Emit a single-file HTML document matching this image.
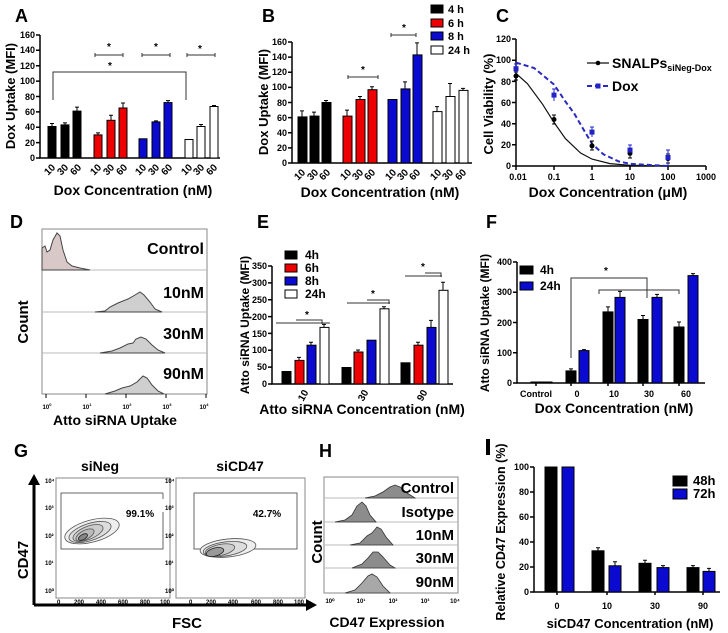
<!DOCTYPE html>
<html><head><meta charset="utf-8"><style>
html,body{margin:0;padding:0;background:#fff}
svg{display:block}
text{font-family:"Liberation Sans",Arial,sans-serif;font-weight:bold;fill:#000}
.t{font-size:9px}
.s{font-size:6px;font-weight:normal;fill:#444}
.ax{stroke:#000;stroke-width:1.5;fill:none}
.e{stroke:#000;stroke-width:1;fill:none}
.br{stroke:#333;stroke-width:1;fill:none}
</style></head><body>
<svg width="728" height="633" viewBox="0 0 728 633" xmlns="http://www.w3.org/2000/svg">
<!-- ========== A ========== -->
<text x="15" y="22" font-size="18">A</text>
<path class="ax" d="M40,35 V158 H220"/>
<g class="ax"><path d="M36,158h4M36,142.6h4M36,127.2h4M36,111.9h4M36,96.5h4M36,81.1h4M36,65.7h4M36,50.3h4M36,35h4"/></g>
<g class="t" text-anchor="end"><text x="35" y="161">0</text><text x="35" y="146">20</text><text x="35" y="130">40</text><text x="35" y="115">60</text><text x="35" y="100">80</text><text x="35" y="84">100</text><text x="35" y="69">120</text><text x="35" y="53">140</text><text x="35" y="38">160</text></g>
<text transform="translate(15,96) rotate(-90)" text-anchor="middle" font-size="13">Dox Uptake (MFI)</text>
<g stroke="#000" stroke-width="1">
<rect x="48" y="126.5" width="8" height="31.5" fill="#000"/><rect x="61" y="124.9" width="8" height="33.1" fill="#000"/><rect x="73" y="111.1" width="8" height="46.9" fill="#000"/>
<rect x="94" y="134.9" width="8" height="23.1" fill="#e00"/><rect x="107" y="120.3" width="8" height="37.7" fill="#e00"/><rect x="119" y="108" width="8" height="50" fill="#e00"/>
<rect x="139" y="138.8" width="8" height="19.2" fill="#0a0ad0"/><rect x="152" y="121.9" width="8" height="36.1" fill="#0a0ad0"/><rect x="164" y="102.6" width="8" height="55.4" fill="#0a0ad0"/>
<rect x="185" y="139.5" width="8" height="18.5" fill="#fff"/><rect x="197" y="126.5" width="8" height="31.5" fill="#fff"/><rect x="210" y="106.5" width="8" height="51.5" fill="#fff"/>
</g>
<path class="e" d="M52,126.5v-3m-2,0h4M65,124.9v-2m-2,0h4M77,111.1v-4m-2,0h4M98,134.9v-2m-2,0h4M111,120.3v-5m-2,0h4M123,108v-5m-2,0h4M156,121.9v-1m-2,0h4M168,102.6v-2m-2,0h4M201,126.5v-2m-2,0h4M214,106.5v-1m-2,0h4"/>
<g font-size="10" text-anchor="middle">
<text transform="translate(52,172) rotate(-45)">10</text><text transform="translate(65,172) rotate(-45)">30</text><text transform="translate(78,172) rotate(-45)">60</text>
<text transform="translate(98,172) rotate(-45)">10</text><text transform="translate(111,172) rotate(-45)">30</text><text transform="translate(124,172) rotate(-45)">60</text>
<text transform="translate(143,172) rotate(-45)">10</text><text transform="translate(156,172) rotate(-45)">30</text><text transform="translate(169,172) rotate(-45)">60</text>
<text transform="translate(189,172) rotate(-45)">10</text><text transform="translate(201,172) rotate(-45)">30</text><text transform="translate(214,172) rotate(-45)">60</text>
</g>
<text x="133" y="195" text-anchor="middle" font-size="14">Dox Concentration (nM)</text>
<path class="br" d="M95,53v4M95,55H123M123,53v4M142,53v4M142,55H170M170,53v4M187,53v4M187,55H215M215,53v4M53,100V72H186V100"/>
<g font-size="10" text-anchor="middle"><text x="109" y="50">*</text><text x="156" y="50">*</text><text x="200" y="52">*</text><text x="110" y="69">*</text></g>

<!-- ========== B ========== -->
<text x="262" y="22" font-size="18">B</text>
<path class="ax" d="M292,42 V163 H472"/>
<g class="ax"><path d="M288,163h4M288,147.9h4M288,132.8h4M288,117.6h4M288,102.5h4M288,87.4h4M288,72.3h4M288,57.1h4M288,42h4"/></g>
<g class="t" text-anchor="end"><text x="287" y="166">0</text><text x="287" y="151">20</text><text x="287" y="136">40</text><text x="287" y="121">60</text><text x="287" y="106">80</text><text x="287" y="90">100</text><text x="287" y="75">120</text><text x="287" y="60">140</text><text x="287" y="45">160</text></g>
<text transform="translate(268,102) rotate(-90)" text-anchor="middle" font-size="13">Dox Uptake (MFI)</text>
<g stroke="#000" stroke-width="1">
<rect x="298" y="116.9" width="9" height="46.1" fill="#000"/><rect x="310" y="116.1" width="9" height="46.9" fill="#000"/><rect x="322" y="102.5" width="9" height="60.5" fill="#000"/>
<rect x="343" y="116.1" width="9" height="46.9" fill="#e00"/><rect x="356" y="99.5" width="9" height="63.5" fill="#e00"/><rect x="368" y="89.7" width="9" height="73.3" fill="#e00"/>
<rect x="388" y="99.5" width="9" height="63.5" fill="#0a0ad0"/><rect x="401" y="88.9" width="9" height="74.1" fill="#0a0ad0"/><rect x="413" y="54.9" width="9" height="108.1" fill="#0a0ad0"/>
<rect x="433" y="111.6" width="9" height="51.4" fill="#fff"/><rect x="446" y="96.5" width="9" height="66.5" fill="#fff"/><rect x="459" y="90.4" width="9" height="72.6" fill="#fff"/>
</g>
<path class="e" d="M302,116.9v-6m-2,0h4M314,116.1v-4m-2,0h4M326,102.5v-2m-2,0h4M347,116.1v-6m-2,0h4M360,99.5v-3m-2,0h4M372,89.7v-3m-2,0h4M405,88.9v-7m-2,0h4M417,54.9v-12m-2,0h4M437,111.6v-5m-2,0h4M450,96.5v-13m-2,0h4M463,90.4v-2m-2,0h4"/>
<g font-size="10" text-anchor="middle">
<text transform="translate(302,177) rotate(-45)">10</text><text transform="translate(315,177) rotate(-45)">30</text><text transform="translate(327,177) rotate(-45)">60</text>
<text transform="translate(348,177) rotate(-45)">10</text><text transform="translate(360,177) rotate(-45)">30</text><text transform="translate(372,177) rotate(-45)">60</text>
<text transform="translate(393,177) rotate(-45)">10</text><text transform="translate(405,177) rotate(-45)">30</text><text transform="translate(417,177) rotate(-45)">60</text>
<text transform="translate(438,177) rotate(-45)">10</text><text transform="translate(450,177) rotate(-45)">30</text><text transform="translate(463,177) rotate(-45)">60</text>
</g>
<text x="380" y="197" text-anchor="middle" font-size="14">Dox Concentration (nM)</text>
<path class="br" d="M348,75v4M348,77H378M378,75v4M391,33v4M391,35H416M416,33v4"/>
<g font-size="10" text-anchor="middle"><text x="363" y="73">*</text><text x="404" y="31">*</text></g>
<g stroke="#000" stroke-width="1"><rect x="431" y="5" width="12" height="8" fill="#000"/><rect x="431" y="19" width="12" height="8" fill="#e00"/><rect x="431" y="32" width="12" height="8" fill="#0a0ad0"/><rect x="431" y="46" width="12" height="8" fill="#fff"/></g>
<g font-size="11"><text x="448" y="13" font-weight="normal">4 h</text><text x="448" y="27" font-weight="normal">6 h</text><text x="448" y="40" font-weight="normal">8 h</text><text x="448" y="54" font-weight="normal">24 h</text></g>

<!-- ========== C ========== -->
<text x="496" y="22" font-size="18">C</text>
<path class="ax" d="M516,39 V166 H706"/>
<g class="ax"><path d="M512,166h4M512,144.8h4M512,123.7h4M512,102.5h4M512,81.4h4M512,60.2h4M512,39h4M516,166v4M554,166v4M592,166v4M630,166v4M668,166v4M706,166v4"/></g>
<g class="t" text-anchor="end"><text x="511" y="169">0</text><text x="511" y="148">20</text><text x="511" y="127">40</text><text x="511" y="106">60</text><text x="511" y="85">80</text><text x="511" y="63">100</text><text x="511" y="42">120</text></g>
<g class="t" text-anchor="middle"><text x="518" y="180">0.01</text><text x="554" y="180">0.1</text><text x="592" y="180">1</text><text x="630" y="180">10</text><text x="668" y="180">100</text><text x="706" y="180">1000</text></g>
<text x="608" y="197" text-anchor="middle" font-size="14">Dox Concentration (μM)</text>
<text transform="translate(493,104) rotate(-90)" text-anchor="middle" font-size="13">Cell Viability (%)</text>
<path d="M516,73.4 L527.4,83.7 L542.6,104.3 L554,122.4 L565.4,138.6 L580.6,153 L592,159.1 L610,163.6 L630,165.3 L668,166" stroke="#111" stroke-width="1.2" fill="none"/>
<path d="M516,62.6 L534.1,68 L554,84.5 L565.4,101.5 L573.9,113 L582.4,127.6 L592,143.8 L603.4,154.3 L618.6,161.4 L630,163.8 L668,166" stroke="#2a2ac0" stroke-width="2" stroke-dasharray="5,3" fill="none"/>
<path class="e" d="M516,72v8M554,115v9M592,141v9M630,149v9M668,154v9M514,72h4M514,80h4M552,115h4M552,124h4M590,141h4M590,150h4M628,149h4M628,158h4M666,154h4M666,163h4"/>
<path d="M516,64v9M554,89v12M592,127v10M630,145v10M668,150v16M514,64h4M552,89h4M590,127h4M628,145h4M666,150h4" stroke="#22c" stroke-width="1" fill="none"/>
<g fill="#000"><circle cx="516" cy="76" r="2.5"/><circle cx="554" cy="119.5" r="2.5"/><circle cx="592" cy="145.9" r="2.5"/><circle cx="630" cy="153.3" r="2.5"/><circle cx="668" cy="158.6" r="2.5"/></g>
<g fill="#2222c8"><rect x="513.5" y="66.2" width="5" height="5"/><rect x="551.5" y="92.6" width="5" height="5"/><rect x="589.5" y="129.6" width="5" height="5"/><rect x="627.5" y="147.6" width="5" height="5"/><rect x="665.5" y="155" width="5" height="5"/></g>
<path d="M587,63h22" stroke="#111" stroke-width="1.2"/><circle cx="598" cy="63" r="2.3"/>
<text x="612" y="68" font-size="14" font-weight="normal">SNALPs<tspan font-size="9" dy="3">siNeg-Dox</tspan></text>
<path d="M587,86h22" stroke="#2a2ac0" stroke-width="2" stroke-dasharray="5,3"/><rect x="595.5" y="83.5" width="5" height="5" fill="#2222c8"/>
<text x="612" y="91" font-size="14" font-weight="normal">Dox</text>

<!-- ========== D ========== -->
<text x="10" y="228" font-size="18">D</text>
<rect x="42" y="229" width="165" height="165" fill="none" stroke="#888" stroke-width="1"/>
<path d="M42,270H207M42,312H207M42,353H207" stroke="#bbb" stroke-width="1"/>
<path d="M42,270 L42,248 L45,246 L47,252 L50,250 L53,240 L57,233 L60,236 L63,250 L67,262 L72,266 L80,268 L90,270 Z" fill="#d9c8c8" stroke="#444" stroke-width="1"/>
<path d="M95,312 L105,311 L110,307 L118,303 L128,299 L135,295 L140,292 L144,295 L150,302 L155,309 L162,312 Z" fill="#cfcfcf" stroke="#444" stroke-width="1"/>
<path d="M100,353 L112,351 L120,348 L128,344 L133,343 L136,339 L141,337 L146,339 L152,345 L158,350 L165,353 Z" fill="#cfcfcf" stroke="#444" stroke-width="1"/>
<path d="M105,394 L115,391 L122,388 L130,386 L137,382 L143,376 L147,378 L152,385 L158,391 L164,394 Z" fill="#cfcfcf" stroke="#444" stroke-width="1"/>
<g font-size="16" text-anchor="end"><text x="204" y="254">Control</text><text x="204" y="298">10nM</text><text x="204" y="339">30nM</text><text x="204" y="379">90nM</text></g>
<path d="M46,394v4M86,394v4M126,394v4M166,394v4M206,394v4" stroke="#000"/>
<g class="s" text-anchor="middle"><text x="47" y="409">10<tspan font-size="4" dy="-3">0</tspan></text><text x="87" y="409">10<tspan font-size="4" dy="-3">1</tspan></text><text x="127" y="409">10<tspan font-size="4" dy="-3">2</tspan></text><text x="167" y="409">10<tspan font-size="4" dy="-3">3</tspan></text><text x="204" y="409">10<tspan font-size="4" dy="-3">4</tspan></text></g>
<text x="115" y="425" text-anchor="middle" font-size="14">Atto siRNA Uptake</text>
<text transform="translate(28,322) rotate(-90)" text-anchor="middle" font-size="15">Count</text>

<!-- ========== E ========== -->
<text x="257" y="228" font-size="18">E</text>
<path class="ax" d="M272,266 V384 H453"/>
<g class="ax"><path d="M268,384h4M268,367.1h4M268,350.3h4M268,333.4h4M268,316.6h4M268,299.7h4M268,282.9h4M268,266h4"/></g>
<g class="t" text-anchor="end"><text x="267" y="387">0</text><text x="267" y="370">50</text><text x="267" y="353">100</text><text x="267" y="337">150</text><text x="267" y="320">200</text><text x="267" y="303">250</text><text x="267" y="286">300</text><text x="267" y="269">350</text></g>
<text transform="translate(249,325) rotate(-90)" text-anchor="middle" font-size="12">Atto siRNA Uptake (MFI)</text>
<g stroke="#000" stroke-width="1">
<rect x="282" y="371.5" width="9" height="12.5" fill="#000"/><rect x="295" y="360.4" width="9" height="23.6" fill="#e00"/><rect x="307" y="345.2" width="9" height="38.8" fill="#0a0ad0"/><rect x="320" y="327.4" width="9" height="56.6" fill="#fff"/>
<rect x="342" y="367.5" width="9" height="16.5" fill="#000"/><rect x="354" y="352" width="9" height="32" fill="#e00"/><rect x="367" y="340.2" width="9" height="43.8" fill="#0a0ad0"/><rect x="380" y="308.8" width="9" height="75.2" fill="#fff"/>
<rect x="401" y="362.8" width="9" height="21.2" fill="#000"/><rect x="414" y="345.2" width="9" height="38.8" fill="#e00"/><rect x="427" y="327.4" width="9" height="56.6" fill="#0a0ad0"/><rect x="439" y="290.3" width="9" height="93.7" fill="#fff"/>
</g>
<path class="e" d="M299,360.4v-3m-2,0h4M311,345.2v-3m-2,0h4M324,327.4v-3m-2,0h4M358,352v-2m-2,0h4M384,308.8v-2m-2,0h4M418,345.2v-3m-2,0h4M431,327.4v-7m-2,0h4M443,290.3v-8m-2,0h4"/>
<g font-size="10" text-anchor="middle"><text transform="translate(306,397) rotate(-60)">10</text><text transform="translate(366,397) rotate(-60)">30</text><text transform="translate(425,397) rotate(-60)">90</text></g>
<text x="362" y="414" text-anchor="middle" font-size="14">Atto siRNA Concentration (nM)</text>
<path class="br" d="M276,323H330M296,320H322V324M347,303H390M367,300H389V304M405,276H442M425,273H441V277"/>
<g font-size="10" text-anchor="middle"><text x="307" y="318">*</text><text x="373" y="297">*</text><text x="423" y="270">*</text></g>
<g stroke="#000" stroke-width="1"><rect x="285" y="251" width="12" height="8" fill="#000"/><rect x="285" y="264" width="12" height="8" fill="#e00"/><rect x="285" y="277" width="12" height="8" fill="#0a0ad0"/><rect x="285" y="290" width="12" height="8" fill="#fff"/></g>
<g font-size="12"><text x="305" y="259" font-weight="normal">4h</text><text x="305" y="272" font-weight="normal">6h</text><text x="305" y="285" font-weight="normal">8h</text><text x="305" y="298" font-weight="normal">24h</text></g>

<!-- ========== F ========== -->
<text x="486" y="228" font-size="18">F</text>
<path class="ax" d="M517,262 V383 H705"/>
<g class="ax"><path d="M513,383h4M513,352.8h4M513,322.5h4M513,292.3h4M513,262h4M536,383v3M571,383v3M608,383v3M643,383v3M679,383v3"/></g>
<g class="t" text-anchor="end"><text x="512" y="386">0</text><text x="512" y="356">100</text><text x="512" y="326">200</text><text x="512" y="295">300</text><text x="512" y="265">400</text></g>
<text transform="translate(489,323) rotate(-90)" text-anchor="middle" font-size="12">Atto siRNA Uptake (MFI)</text>
<g stroke="#000" stroke-width="1">
<rect x="531" y="382" width="10" height="1" fill="#000"/><rect x="542" y="382" width="10" height="1" fill="#0a0ad0"/>
<rect x="566" y="370.9" width="10" height="12.1" fill="#000"/><rect x="579" y="350.6" width="10" height="32.4" fill="#0a0ad0"/>
<rect x="603" y="311.9" width="10" height="71.1" fill="#000"/><rect x="615" y="297.4" width="10" height="85.6" fill="#0a0ad0"/>
<rect x="638" y="319.5" width="10" height="63.5" fill="#000"/><rect x="652" y="297.4" width="10" height="85.6" fill="#0a0ad0"/>
<rect x="674" y="327" width="10" height="56" fill="#000"/><rect x="688" y="275.6" width="10" height="107.4" fill="#0a0ad0"/>
</g>
<path class="e" d="M571,370.9v-2m-2,0h4M584,350.6v-1m-2,0h4M608,311.9v-5m-2,0h4M620,297.4v-6m-2,0h4M643,319.5v-4m-2,0h4M657,297.4v-3m-2,0h4M679,327v-5m-2,0h4M693,275.6v-2m-2,0h4"/>
<g class="t" text-anchor="middle"><text x="536" y="397">Control</text><text x="577" y="397">0</text><text x="614" y="397">10</text><text x="649" y="397">30</text><text x="686" y="397">60</text></g>
<text x="614" y="413" text-anchor="middle" font-size="14">Dox Concentration (nM)</text>
<path class="br" d="M571,358V278H647V298M599,294V290H679V294"/>
<text x="606" y="274" font-size="10" text-anchor="middle">*</text>
<g stroke="#000" stroke-width="1"><rect x="520" y="266" width="13" height="8" fill="#000"/><rect x="520" y="282" width="13" height="8" fill="#0a0ad0"/></g>
<text x="540" y="274" font-size="12" font-weight="normal">4h</text><text x="540" y="290" font-size="12" font-weight="normal">24h</text>

<!-- ========== G ========== -->
<text x="14" y="457" font-size="18">G</text>
<path d="M34,605V483M34,605H308" stroke="#000" stroke-width="3" fill="none"/>
<path d="M28,485L34,474L40,485Z M306,599L317,605L306,611Z" fill="#000"/>
<text x="100" y="471" text-anchor="middle" font-size="14">siNeg</text>
<text x="240" y="471" text-anchor="middle" font-size="14">siCD47</text>
<rect x="56" y="478" width="114" height="120" fill="none" stroke="#888"/>
<rect x="176" y="478" width="129" height="120" fill="none" stroke="#888"/>
<path d="M163,493H61V549H163V512M163,493v6" fill="none" stroke="#666" stroke-width="1"/>
<rect x="194" y="493" width="103" height="56" fill="none" stroke="#666" stroke-width="1"/>
<g fill="none" stroke="#555" stroke-width="0.8">
<ellipse cx="92" cy="531" rx="28" ry="11" transform="rotate(-15 92 531)" fill="#eee"/>
<ellipse cx="90" cy="532" rx="22" ry="8.5" transform="rotate(-18 90 532)" fill="#ddd"/>
<ellipse cx="88" cy="533" rx="16" ry="6.5" transform="rotate(-22 88 533)" fill="#ccc"/>
<ellipse cx="85" cy="535" rx="10" ry="4.5" transform="rotate(-28 85 535)" fill="#bbb"/>
<ellipse cx="83" cy="537" rx="5" ry="2.5" transform="rotate(-30 83 537)" stroke="#222" fill="#888"/>
<ellipse cx="228" cy="548" rx="28" ry="9" transform="rotate(-6 228 548)" fill="#eee"/>
<ellipse cx="225" cy="549" rx="22" ry="7" transform="rotate(-8 225 549)" fill="#ddd"/>
<ellipse cx="220" cy="550" rx="15" ry="5.5" transform="rotate(-12 220 550)" fill="#ccc"/>
<ellipse cx="215" cy="552" rx="9" ry="4" transform="rotate(-15 215 552)" stroke="#222" fill="#999"/>
</g>
<text x="140" y="517" text-anchor="middle" font-size="10">99.1%</text>
<text x="267" y="517" text-anchor="middle" font-size="10">42.7%</text>
<g class="s" font-size="5"><text x="45" y="483">10⁴</text><text x="45" y="510">10³</text><text x="45" y="538">10²</text><text x="45" y="565">10¹</text><text x="45" y="593">10⁰</text>
<text x="165" y="483">10⁴</text><text x="165" y="510">10³</text><text x="165" y="538">10²</text><text x="165" y="565">10¹</text><text x="165" y="593">10⁰</text>
<text x="57" y="604">0</text><text x="74" y="604">200</text><text x="96" y="604">400</text><text x="118" y="604">600</text><text x="140" y="604">800</text><text x="160" y="604">100</text>
<text x="189" y="604">0</text><text x="206" y="604">200</text><text x="228" y="604">400</text><text x="251" y="604">600</text><text x="273" y="604">800</text><text x="294" y="604">100</text></g>
<text x="187" y="628" text-anchor="middle" font-size="15">FSC</text>
<text transform="translate(28,560) rotate(-90)" text-anchor="middle" font-size="15">CD47</text>

<!-- ========== H ========== -->
<text x="319" y="457" font-size="18">H</text>
<rect x="324" y="477" width="134" height="116" fill="none" stroke="#888"/>
<path d="M324,498H458M324,522H458M324,545H458M324,568H458" stroke="#bbb"/>
<g fill="#8c8c8c" stroke="#333" stroke-width="0.8">
<path d="M365,498 L375,496 L383,492 L390,487 L395,485 L400,487 L407,493 L415,498 Z"/>
<path d="M335,522 L345,520 L352,515 L357,506 L362,502 L366,506 L370,515 L376,522 Z"/>
<path d="M350,545 L360,543 L367,536 L372,533 L377,527 L381,529 L386,537 L393,545 Z"/>
<path d="M352,568 L362,564 L368,558 L373,552 L378,552 L383,557 L390,565 L395,568 Z"/>
<path d="M345,593 L355,590 L362,583 L368,576 L372,574 L377,577 L383,586 L390,593 Z" fill="#a8a8a8"/>
</g>
<g font-size="15" text-anchor="end"><text x="454" y="493">Control</text><text x="454" y="517">Isotype</text><text x="454" y="540">10nM</text><text x="454" y="563">30nM</text><text x="454" y="587">90nM</text></g>
<g class="s" font-size="5" text-anchor="middle"><text x="330" y="603">10⁰</text><text x="361" y="603">10¹</text><text x="393" y="603">10²</text><text x="425" y="603">10³</text><text x="455" y="603">10⁴</text></g>
<text x="387" y="627" text-anchor="middle" font-size="14">CD47 Expression</text>
<text transform="translate(322,542) rotate(-90)" text-anchor="middle" font-size="15">Count</text>

<!-- ========== I ========== -->
<rect x="486" y="439" width="4" height="16" fill="#000"/>
<path class="ax" d="M534,467 V592 H720"/>
<g class="ax"><path d="M530,592h4M530,567h4M530,542h4M530,517h4M530,492h4M530,467h4M557,592v3M607,592v3M655,592v3M703,592v3"/></g>
<g class="t" text-anchor="end"><text x="529" y="595">0</text><text x="529" y="570">20</text><text x="529" y="545">40</text><text x="529" y="520">60</text><text x="529" y="495">80</text><text x="529" y="470">100</text></g>
<text transform="translate(505,532) rotate(-90)" text-anchor="middle" font-size="12.5">Relative CD47 Expression (%)</text>
<g stroke="#000" stroke-width="1">
<rect x="545" y="467" width="12" height="125" fill="#000"/><rect x="562" y="467" width="12" height="125" fill="#0a0ad0"/>
<rect x="592" y="550.8" width="12" height="41.2" fill="#000"/><rect x="609" y="565.8" width="12" height="26.2" fill="#0a0ad0"/>
<rect x="639" y="563.3" width="12" height="28.7" fill="#000"/><rect x="657" y="567.6" width="12" height="24.4" fill="#0a0ad0"/>
<rect x="687" y="567.6" width="12" height="24.4" fill="#000"/><rect x="703" y="571.4" width="12" height="20.6" fill="#0a0ad0"/>
</g>
<path class="e" d="M598,550.8v-3m-2,0h4M615,565.8v-4m-2,0h4M645,563.3v-3m-2,0h4M663,567.6v-2m-2,0h4M693,567.6v-2m-2,0h4M709,571.4v-3m-2,0h4"/>
<g class="t" text-anchor="middle"><text x="557" y="609">0</text><text x="607" y="609">10</text><text x="655" y="609">30</text><text x="703" y="609">90</text></g>
<text x="630" y="628" text-anchor="middle" font-size="13">siCD47 Concentration (nM)</text>
<g stroke="#000" stroke-width="1"><rect x="673" y="476" width="14" height="10" fill="#000"/><rect x="673" y="489" width="14" height="10" fill="#0a0ad0"/></g>
<text x="693" y="485" font-size="13" font-weight="normal">48h</text><text x="693" y="498" font-size="13" font-weight="normal">72h</text>
</svg>
</body></html>
